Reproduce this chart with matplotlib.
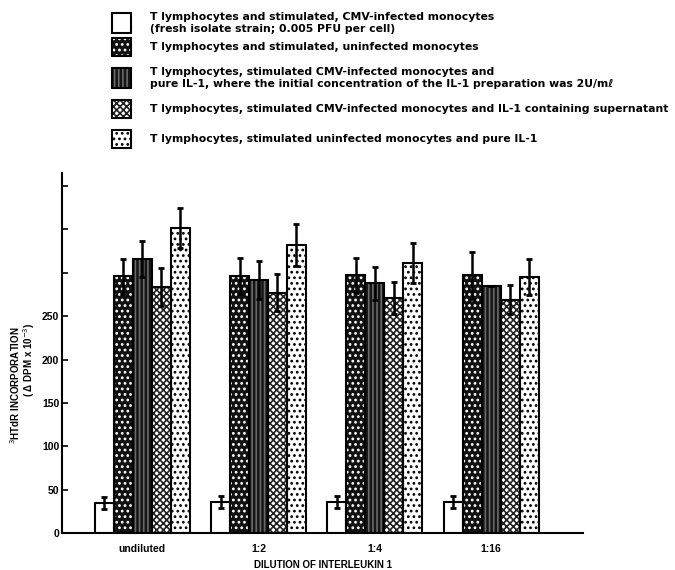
import numpy as np
import matplotlib.pyplot as plt
from matplotlib.patches import Rectangle

plt.rcParams['font.family'] = ['Liberation Sans', 'DejaVu Sans']
plt.rcParams['hatch.linewidth'] = 1.2

# data (DPM x 10^-3)
dilutions = ['undiluted', '1:2', '1:4', '1:16']
cmv_mono = [35, 36, 36, 36]
cmv_mono_err = [7, 7, 7, 7]
uninf_mono = [296, 296, 297, 297]
uninf_mono_err = [20, 21, 20, 27]
cmv_pure_il1 = [316, 292, 288, 285]
cmv_pure_il1_err = [21, 22, 19, 0]
cmv_supernat = [284, 277, 271, 269]
cmv_supernat_err = [22, 21, 18, 17]
uninf_pure_il1 = [352, 332, 311, 295]
uninf_pure_il1_err = [23, 24, 23, 21]

yticks = [0, 50, 100, 150, 200, 250, 300, 350, 400]
ytick_labels = ['0', '50', '100', '150', '200', '250', '', '', '']

legend_text = [
    'T lymphocytes and stimulated, CMV-infected monocytes\n(fresh isolate strain; 0.005 PFU per cell)',
    'T lymphocytes and stimulated, uninfected monocytes',
    'T lymphocytes, stimulated CMV-infected monocytes and\npure IL-1, where the initial concentration of the IL-1 preparation was 2U/mℓ',
    'T lymphocytes, stimulated CMV-infected monocytes and IL-1 containing supernatant',
    'T lymphocytes, stimulated uninfected monocytes and pure IL-1',
]

# (facecolor, hatch colour, hatch)
styles = [
    ('white', 'black', ''),
    ('#111111', 'white', '...'),
    ('#151515', '#6a6a6a', '||||'),
    ('white', '#222222', 'xxxxx'),
    ('white', 'black', '...'),
]

series = [cmv_mono, uninf_mono, cmv_pure_il1, cmv_supernat, uninf_pure_il1]
errors = [cmv_mono_err, uninf_mono_err, cmv_pure_il1_err, cmv_supernat_err, uninf_pure_il1_err]

fig = plt.figure(figsize=(6.75, 5.7), dpi=100)
ax = fig.add_axes([62 / 675, 37 / 570, 521 / 675, 360 / 570])

x = np.arange(len(dilutions))
w = 0.163
for i, (vals, errs) in enumerate(zip(series, errors)):
    fc, hc, hatch = styles[i]
    pos = x + (i - 2) * w
    ax.bar(pos, vals, w, color=fc, edgecolor=hc, hatch=hatch, linewidth=0, zorder=2)
    ax.bar(pos, vals, w, fill=False, edgecolor='black', linewidth=1.5, zorder=3)
    ax.errorbar(pos, vals, yerr=errs, fmt='none', ecolor='black',
                elinewidth=1.8, capsize=2, capthick=2, zorder=4)

ax.set_xlim(-0.69, 3.79)
ax.set_ylim(0, 415)
ax.spines['top'].set_visible(False)
ax.spines['right'].set_visible(False)
ax.spines['left'].set_linewidth(1.5)
ax.spines['bottom'].set_linewidth(1.5)

ax.set_yticks(yticks)
ax.set_yticklabels(ytick_labels, fontsize=7.5, fontweight='bold')
ax.tick_params(axis='y', direction='in', length=4, width=1.2, pad=2)
ax.set_xticks(x)
ax.set_xticklabels(dilutions, fontsize=7.5, fontweight='bold')
ax.tick_params(axis='x', length=0, pad=8)
ax.set_xlabel('DILUTION OF INTERLEUKIN 1', fontsize=7, fontweight='bold', labelpad=4)

fig.text(15 / 675, 1 - 385 / 570, '$^3$HTdR INCORPORATION', rotation=90,
         ha='center', va='center', fontsize=7, fontweight='bold')
fig.text(29 / 675, 1 - 360 / 570, '( Δ DPM x 10$^{-3}$)', rotation=90,
         ha='center', va='center', fontsize=7, fontweight='bold')

# legend drawn by hand at the top
box_y = [13, 38, 68, 100, 130]
box_h = [20, 18, 20, 18, 18]
for i, label in enumerate(legend_text):
    fc, hc, hatch = styles[i]
    y0 = 1 - (box_y[i] + box_h[i]) / 570
    fig.add_artist(Rectangle((112 / 675, y0), 19 / 675, box_h[i] / 570,
                             transform=fig.transFigure, facecolor=fc,
                             edgecolor=hc, hatch=hatch, linewidth=0))
    fig.add_artist(Rectangle((112 / 675, y0), 19 / 675, box_h[i] / 570,
                             transform=fig.transFigure, fill=False,
                             edgecolor='black', linewidth=1.5))
    fig.text(150 / 675, 1 - (box_y[i] + box_h[i] / 2) / 570, label,
             ha='left', va='center', fontsize=7.8, fontweight='bold',
             family=['DejaVu Sans'], linespacing=1.25)

fig.savefig('out.png', dpi=100)
